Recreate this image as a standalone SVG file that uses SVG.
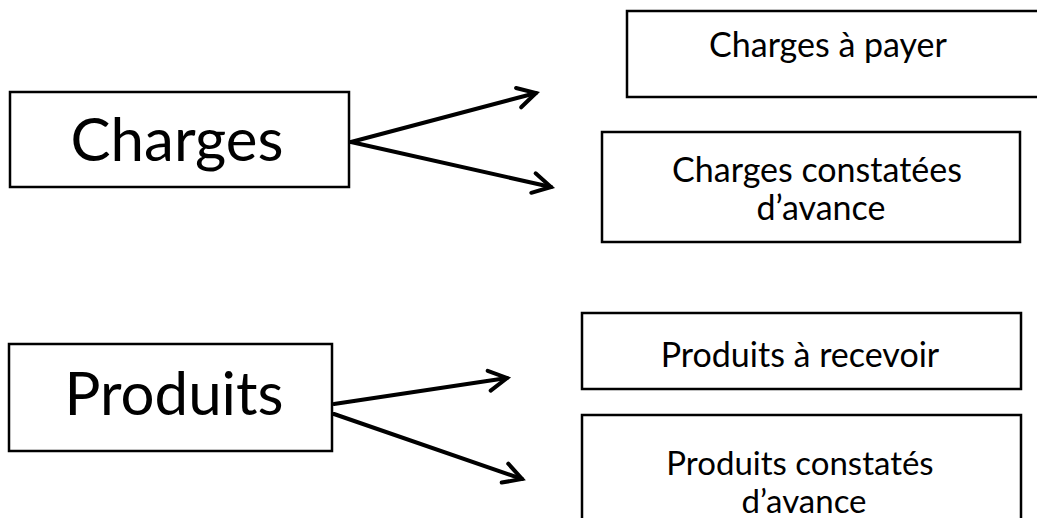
<svg xmlns="http://www.w3.org/2000/svg" width="1037" height="518" viewBox="0 0 1037 518">
  <style>
    .box { fill: #ffffff; stroke: #000000; stroke-width: 2.5; }
    .big { font-family: Lato, "Open Sans", "Liberation Sans", sans-serif; font-size: 60px; fill: #000000; text-anchor: middle; }
    .small { font-family: Lato, "Open Sans", "Liberation Sans", sans-serif; font-size: 34px; fill: #000000; text-anchor: middle; }
    .tight { font-size: 33px; }
    .conn { stroke: #000000; stroke-width: 4; fill: none; stroke-linecap: round; }
  </style>
  <defs>
    <marker id="arrow" markerUnits="userSpaceOnUse" viewBox="-24 -14 28 28" markerWidth="28" markerHeight="28" refX="0" refY="0" orient="auto">
      <path d="M -18 -10 L 0 0 L -18 10" fill="none" stroke="#000000" stroke-width="4" stroke-linecap="round" stroke-linejoin="miter"/>
    </marker>
  </defs>
  <rect width="1037" height="518" fill="#ffffff"/>

  <g id="node-charges">
    <rect class="box" x="10" y="92" width="339" height="95"/>
    <text class="big" x="177" y="161">Charges</text>
  </g>
  <g id="node-produits">
    <rect class="box" x="9" y="344" width="323" height="107"/>
    <text class="big" x="174" y="415">Produits</text>
  </g>
  <g id="node-charges-a-payer">
    <rect class="box" x="627" y="11" width="420" height="86"/>
    <text class="small" x="828" y="57">Charges à payer</text>
  </g>
  <g id="node-charges-constatees">
    <rect class="box" x="602" y="132" width="418" height="110"/>
    <text class="small" x="817" y="182">Charges constatées</text>
    <text class="small" x="821" y="220">d’avance</text>
  </g>
  <g id="node-produits-a-recevoir">
    <rect class="box" x="582" y="313" width="439" height="76"/>
    <text class="small" x="800" y="367">Produits à recevoir</text>
  </g>
  <g id="node-produits-constates">
    <rect class="box" x="582" y="415" width="439" height="120"/>
    <text class="small tight" x="800" y="475">Produits constatés</text>
    <text class="small tight" x="804" y="513">d’avance</text>
  </g>

  <g id="connectors">
    <line class="conn" x1="351" y1="142" x2="536" y2="93" marker-end="url(#arrow)"/>
    <line class="conn" x1="351" y1="142" x2="551" y2="187" marker-end="url(#arrow)"/>
    <line class="conn" x1="334" y1="404" x2="507" y2="378" marker-end="url(#arrow)"/>
    <line class="conn" x1="334" y1="414" x2="522" y2="479" marker-end="url(#arrow)"/>
  </g>
</svg>
